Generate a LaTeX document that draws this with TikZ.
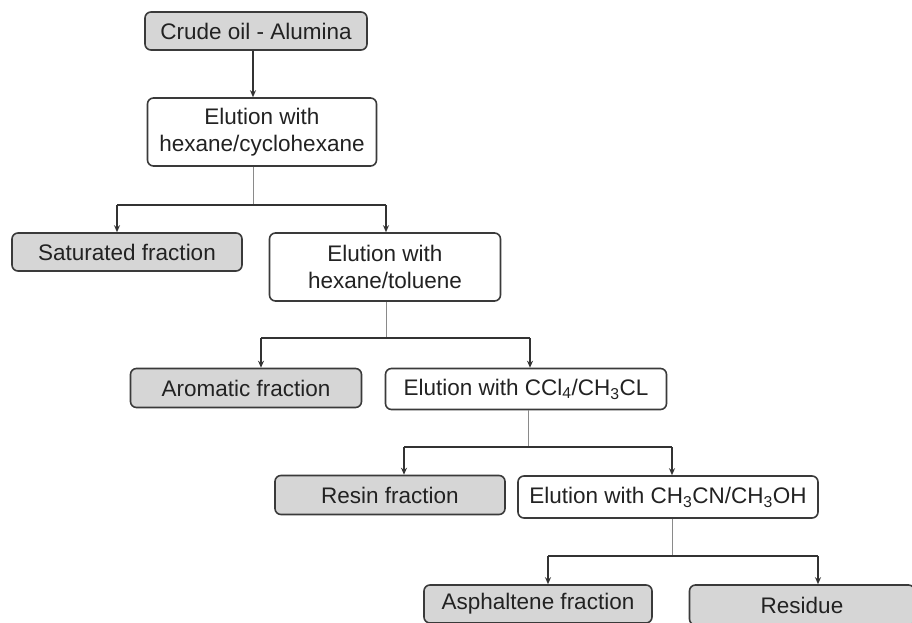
\documentclass[tikz,border=0pt]{standalone}
\usepackage{fontspec}
\setmainfont{Liberation Sans}
\usetikzlibrary{arrows.meta}
\definecolor{boxline}{HTML}{3A3A3A}
\definecolor{fracfill}{HTML}{D6D6D6}
\definecolor{txt}{HTML}{222222}
\definecolor{linkc}{HTML}{333333}
\definecolor{stemc}{HTML}{8A8A8A}
\begin{document}
\begin{tikzpicture}[x=1pt,y=-1pt,
  box/.style={draw=boxline, line width=1.6pt, rounded corners=6pt, inner sep=0pt,
    align=center, font=\fontsize{22.5}{27}\selectfont, text=txt},
  fractionbox/.style={box, fill=fracfill},
  elutebox/.style={box, fill=white},
  link/.style={draw=linkc, line width=1.5pt},
  tip/.style={link, -{Stealth[length=7pt,width=6pt]}},
  stem/.style={draw=stemc, line width=1pt}]
\clip (0,0) rectangle (912,623);

% boxes
\node[fractionbox, minimum width=222pt, minimum height=38pt] (crude) at (256,31) {Crude oil - Alumina};
\node[elutebox, minimum width=229pt, minimum height=68pt] (elu1) at (262,132) {Elution with\\hexane/cyclohexane};
\node[fractionbox, minimum width=230pt, minimum height=38pt] (sat) at (127,252) {Saturated fraction};
\node[elutebox, minimum width=231pt, minimum height=68pt] (elu2) at (385,267) {Elution with\\hexane/toluene};
\node[fractionbox, minimum width=231pt, minimum height=39pt] (aro) at (246,388) {Aromatic fraction};
\node[elutebox, minimum width=281pt, minimum height=41pt] (elu3) at (526,389) {Elution with CCl\textsubscript{4}/CH\textsubscript{3}CL};
\node[fractionbox, minimum width=230pt, minimum height=39pt] (resin) at (390,495) {Resin fraction};
\node[elutebox, minimum width=300pt, minimum height=42pt] (elu4) at (668,497) {Elution with CH\textsubscript{3}CN/CH\textsubscript{3}OH};
\node[fractionbox, minimum width=228pt, minimum height=38pt] (asph) at (538,604) {Asphaltene fraction};
\node[fractionbox, minimum width=225pt, minimum height=40pt] (resid) at (802,605) {Residue};

% junction points of the branches
\coordinate (j1) at (253,205); \coordinate (l1) at (117,205); \coordinate (r1) at (386,205);
\coordinate (j2) at (386,338); \coordinate (l2) at (261,338); \coordinate (r2) at (530,338);
\coordinate (j3) at (528,447); \coordinate (l3) at (404,447); \coordinate (r3) at (672,447);
\coordinate (j4) at (672,556); \coordinate (l4) at (548,556); \coordinate (r4) at (818,556);

% connectors
\draw[tip] (j1 |- crude.south) -- (j1 |- elu1.north);

\draw[stem] (j1 |- elu1.south) -- (j1);
\draw[link] (l1) -- (r1);
\draw[tip] (l1) -- (l1 |- sat.north);
\draw[tip] (r1) -- (r1 |- elu2.north);

\draw[stem] (j2 |- elu2.south) -- (j2);
\draw[link] (l2) -- (r2);
\draw[tip] (l2) -- (l2 |- aro.north);
\draw[tip] (r2) -- (r2 |- elu3.north);

\draw[stem] (j3 |- elu3.south) -- (j3);
\draw[link] (l3) -- (r3);
\draw[tip] (l3) -- (l3 |- resin.north);
\draw[tip] (r3) -- (r3 |- elu4.north);

\draw[stem] (j4 |- elu4.south) -- (j4);
\draw[link] (l4) -- (r4);
\draw[tip] (l4) -- (l4 |- asph.north);
\draw[tip] (r4) -- (r4 |- resid.north);
\end{tikzpicture}
\end{document}
